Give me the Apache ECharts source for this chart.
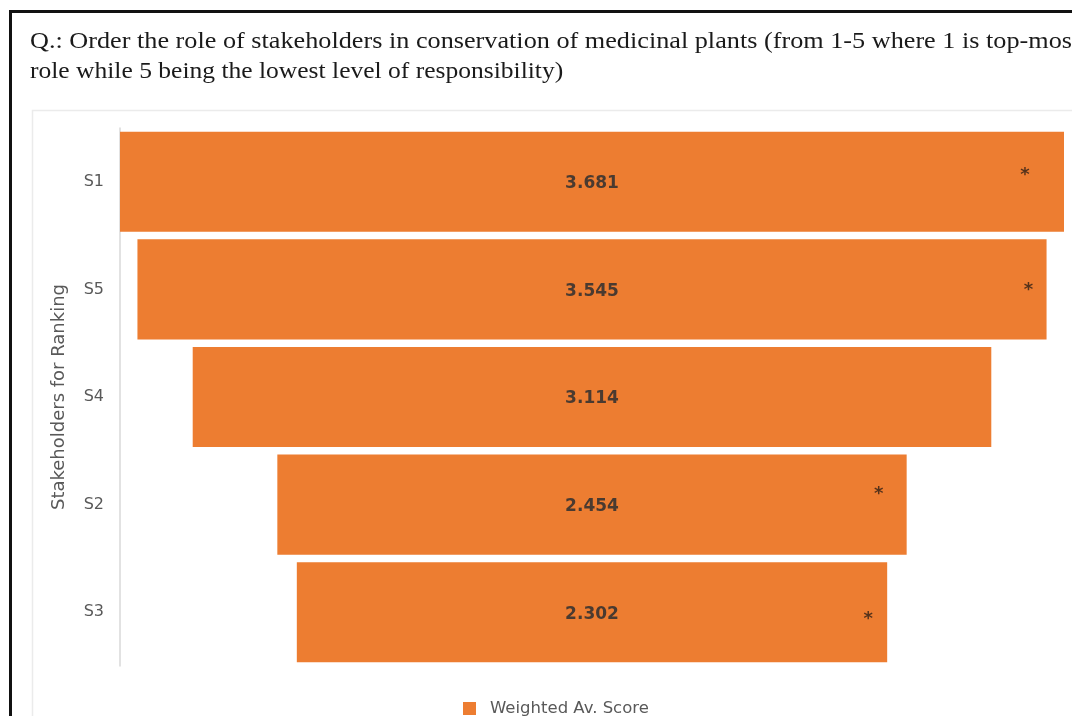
<!DOCTYPE html>
<html><head><meta charset="utf-8">
<script src="https://cdn.jsdelivr.net/npm/echarts@6/dist/echarts.min.js"></script>
<style>html,body{margin:0;padding:0;background:#fff;overflow:hidden}#c{width:1072px;height:716px}</style>
</head><body><div id="c"></div>
<script>
// ---- data ----
const titleLines = [
  'Q.: Order the role of stakeholders in conservation of medicinal plants (from 1-5 where 1 is top-most',
  'role while 5 being the lowest level of responsibility)'
];
const categories = ['S1', 'S5', 'S4', 'S2', 'S3'];
const scores = [3.681, 3.545, 3.114, 2.454, 2.302];
const starred = [true, true, false, true, true];
const seriesName = 'Weighted Av. Score';
const axisName = 'Stakeholders for Ranking';

// ---- derived ----
const maxScore = Math.max.apply(null, scores);
const pads = scores.map(v => (maxScore - v) / 2);   // centre the bars (funnel look)
// asterisk offsets (px) relative to each bar's right end
const starShift = [[-39, -6], [-18, 1], [0, 0], [-28, -10], [-19, 7]];
const starData = [];
categories.forEach((c, i) => {
  if (starred[i]) starData.push({
    value: [pads[i] + scores[i], c],
    label: { offset: starShift[i] }
  });
});

const ORANGE = '#ED7D31';
const SANS = 'DejaVu Sans';
const titleStyle = { fontFamily: 'Liberation Serif', fontSize: 23, fill: '#1a1a1a', verticalAlign: 'top', textVerticalAlign: 'top' };
const chart = echarts.init(document.getElementById('c'), null, { renderer: 'canvas' });
chart.setOption({
  animation: false,
  backgroundColor: '#fff',
  graphic: [
    { type: 'rect', shape: { x: 10.5, y: 11.5, width: 1100, height: 800 }, style: { fill: 'none', stroke: '#111', lineWidth: 3 }, silent: true, z: -1 },
    { type: 'rect', shape: { x: 32.5, y: 110.5, width: 1100, height: 700 }, style: { fill: 'none', stroke: '#ebebeb', lineWidth: 1.5 }, silent: true, z: -1 },
    { type: 'text', x: 30, y: 30, scaleX: 1.14, silent: true, style: Object.assign({ text: titleLines[0] }, titleStyle) },
    { type: 'text', x: 30, y: 60, scaleX: 1.11, silent: true, style: Object.assign({ text: titleLines[1] }, titleStyle) }
  ],
  legend: {
    data: [{ name: seriesName }],
    left: 458, top: 695,
    icon: 'rect', itemWidth: 13, itemHeight: 13,
    textStyle: { fontFamily: SANS, fontSize: 16.5, color: '#595959', padding: [0, 0, 0, 9] }
  },
  grid: { left: 120, right: 8, top: 128, bottom: 50 },
  xAxis: { type: 'value', min: 0, max: maxScore, show: false },
  yAxis: {
    type: 'category', data: categories, inverse: true,
    name: axisName, nameLocation: 'middle', nameGap: 52, nameRotate: 90,
    nameTextStyle: { fontFamily: SANS, fontSize: 18, color: '#595959' },
    axisLine: { show: true, lineStyle: { color: '#d9d9d9', width: 1.5 } },
    axisTick: { show: false },
    axisLabel: { fontFamily: SANS, fontSize: 16, color: '#595959', margin: 16 }
  },
  series: [
    {
      type: 'bar', stack: 'f', name: 'pad', data: pads, silent: true,
      itemStyle: { color: 'transparent' }, barCategoryGap: '7%'
    },
    {
      type: 'bar', stack: 'f', name: seriesName, data: scores,
      itemStyle: { color: ORANGE }, barCategoryGap: '7%',
      label: {
        show: true, position: 'inside', offset: [0, 2],
        formatter: p => p.value.toFixed(3),
        fontFamily: SANS, fontSize: 17, fontWeight: 'bold', color: '#4a3a30'
      }
    },
    {
      type: 'scatter', name: 'star', data: starData, symbolSize: 1,
      itemStyle: { color: 'transparent' }, silent: true, z: 5,
      label: { show: true, position: 'inside', formatter: '*', fontFamily: SANS, fontSize: 18, fontWeight: 'bold', color: '#2e1f16' }
    }
  ]
});
</script></body></html>
